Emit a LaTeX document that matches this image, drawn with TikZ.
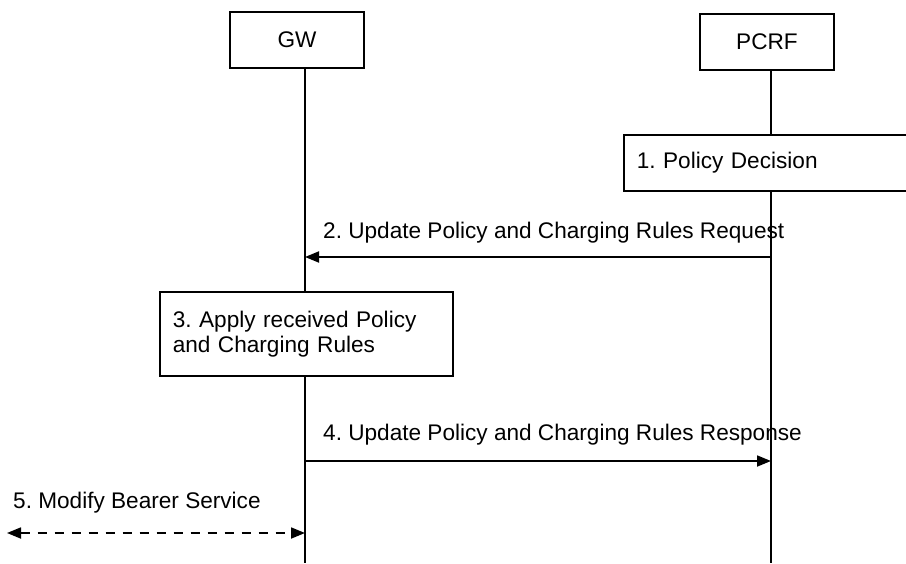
\documentclass[tikz,border=0pt]{standalone}
\usepackage{fontspec}
\setmainfont{Liberation Sans}
\usetikzlibrary{arrows.meta}
\frenchspacing

\tikzset{
  entity/.style={draw, fill=white, line width=1.5pt, minimum width=134pt, minimum height=56pt, inner sep=0pt},
  procbox/.style={draw, fill=white, line width=1.5pt, anchor=north west, align=left, inner xsep=13pt, inner ysep=0pt},
  lifeline/.style={line width=1.8pt},
  msg/.style={line width=1.8pt, -{Triangle[length=14pt,width=11pt]}},
  msglabel/.style={anchor=west, inner sep=0pt},
}

\begin{document}
\begin{tikzpicture}[x=1pt, y=-1pt, font=\fontsize{22.6}{25}\selectfont]
\useasboundingbox (0,0) rectangle (906,563);

% entities and their lifelines
\node (GW)[entity] at (297,40) {GW};
\node (PCRF)[entity] at (767,42) {PCRF};
\coordinate (gwend) at (305,563);
\coordinate (pcrfend) at (771,563);
\draw[lifeline] (GW.south -| gwend) -- (gwend);
\draw[lifeline] (PCRF.south -| pcrfend) -- (pcrfend);

% local procedures
\node (decide)[procbox, text width=264pt, minimum height=56pt] at (623,134) {1. Policy Decision};
\node (apply)[procbox, text width=267pt, minimum height=84pt] at (159,291) {3. Apply received Policy\\and Charging Rules};

% messages
\coordinate (reqfrom) at (771,257);
\coordinate (reqto) at (305,257);
\coordinate (respfrom) at (305,461);
\coordinate (respto) at (771,461);
\coordinate (bearerfrom) at (7,533);
\coordinate (bearerto) at (305,533);

\draw[msg] (reqfrom) -- (reqto);
\draw[msg] (respfrom) -- (respto);
\draw[msg, {Triangle[length=14pt,width=11pt]}-{Triangle[length=14pt,width=11pt]}, dash pattern=on 9pt off 8pt] (bearerfrom) -- (bearerto);

\node (reqtext)[msglabel] at (323,233) {2. Update Policy and Charging Rules Request};
\node (resptext)[msglabel] at (323,435) {4. Update Policy and Charging Rules Response};
\node (bearertext)[msglabel] at (13,503) {5. Modify Bearer Service};

\end{tikzpicture}
\end{document}
